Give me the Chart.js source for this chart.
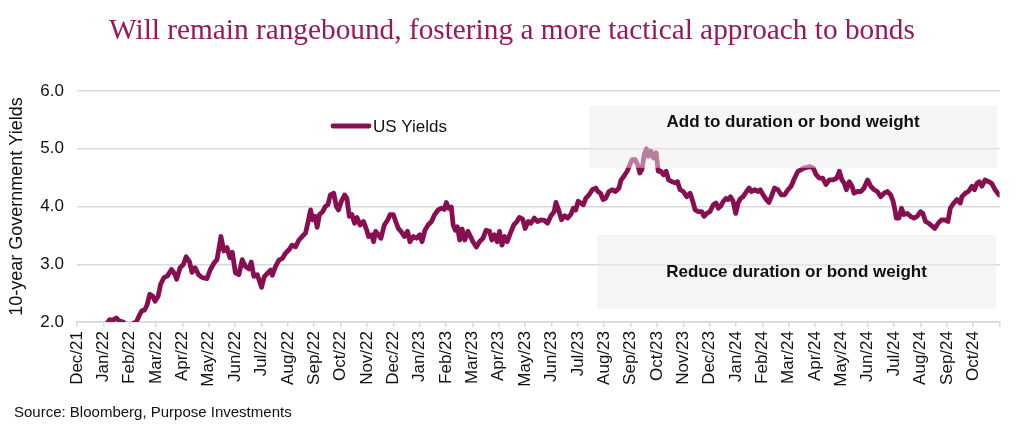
<!DOCTYPE html>
<html>
<head>
<meta charset="utf-8">
<script src="https://cdn.jsdelivr.net/npm/chart.js@4.4.1/dist/chart.umd.min.js"></script>
<style>
  html, body { margin: 0; padding: 0; background: #fff; }
  #wrap { position: relative; width: 1024px; height: 439px; overflow: hidden; }
  #chart { position: absolute; left: 0; top: 0; }
  #title {
    position: absolute; left: 0; top: 13px; width: 1024px; text-align: center;
    font-family: "Liberation Serif", "DejaVu Serif", serif; font-size: 29.3px;
    color: #98185a;
  }
  #source {
    position: absolute; left: 14px; top: 403px;
    font-family: "Liberation Sans", Arial, sans-serif; font-size: 15px; color: #111;
  }
</style>
</head>
<body>
<div id="wrap">
  <canvas id="chart" width="1024" height="439"></canvas>
  <div id="title">Will remain rangebound, fostering a more tactical approach to bonds</div>
  <div id="source">Source: Bloomberg, Purpose Investments</div>
</div>
<script>
// month labels on the date axis (0 = Dec/21)
const monthLabels = [
  "Dec/21", "Jan/22", "Feb/22", "Mar/22", "Apr/22", "May/22", "Jun/22", "Jul/22",
  "Aug/22", "Sep/22", "Oct/22", "Nov/22", "Dec/22", "Jan/23", "Feb/23", "Mar/23",
  "Apr/23", "May/23", "Jun/23", "Jul/23", "Aug/23", "Sep/23", "Oct/23", "Nov/23",
  "Dec/23", "Jan/24", "Feb/24", "Mar/24", "Apr/24", "May/24", "Jun/24", "Jul/24",
  "Aug/24", "Sep/24", "Oct/24"
];

const yTicks = [2, 3, 4, 5, 6];

// position of each reading, in months since Dec/21
const months = [
  0.9, 1.1, 1.24, 1.35, 1.49, 1.6, 1.75, 1.9, 2.05, 2.19, 2.25, 2.35, 2.45, 2.57, 2.66,
  2.76, 2.87, 2.96, 3.08, 3.17, 3.3, 3.43, 3.59, 3.72, 3.78, 3.91, 4.04, 4.14, 4.27, 4.36,
  4.48, 4.61, 4.74, 4.93, 5.06, 5.21, 5.31, 5.41, 5.46, 5.57, 5.69, 5.8, 5.89, 6.01, 6.14,
  6.27, 6.39, 6.52, 6.61, 6.71, 6.84, 7.0, 7.1, 7.22, 7.35, 7.41, 7.53, 7.66, 7.79, 7.91,
  8.04, 8.16, 8.29, 8.42, 8.54, 8.67, 8.77, 8.86, 8.94, 9.04, 9.11, 9.2, 9.32, 9.42, 9.52,
  9.61, 9.74, 9.84, 9.92, 10.03, 10.15, 10.24, 10.33, 10.43, 10.53, 10.62, 10.74, 10.87, 10.99, 11.06,
  11.18, 11.25, 11.33, 11.43, 11.53, 11.66, 11.79, 11.88, 12.0, 12.09, 12.19, 12.29, 12.42, 12.54, 12.63,
  12.76, 12.88, 13.01, 13.09, 13.2, 13.32, 13.45, 13.57, 13.7, 13.83, 13.93, 14.01, 14.1, 14.2, 14.27,
  14.35, 14.43, 14.52, 14.61, 14.71, 14.83, 14.93, 15.02, 15.15, 15.27, 15.4, 15.52, 15.65, 15.74, 15.84,
  15.94, 16.03, 16.12, 16.22, 16.32, 16.44, 16.57, 16.69, 16.78, 16.91, 17.0, 17.12, 17.22, 17.35, 17.47,
  17.6, 17.73, 17.85, 17.98, 18.1, 18.17, 18.25, 18.38, 18.5, 18.61, 18.73, 18.83, 18.92, 19.01, 19.11,
  19.21, 19.3, 19.42, 19.55, 19.68, 19.76, 19.86, 19.96, 20.05, 20.18, 20.3, 20.43, 20.56, 20.64, 20.74,
  20.87, 21.0, 21.06, 21.18, 21.27, 21.35, 21.43, 21.52, 21.6, 21.68, 21.77, 21.87, 21.97, 22.05, 22.15,
  22.25, 22.35, 22.44, 22.57, 22.69, 22.78, 22.88, 23.0, 23.13, 23.26, 23.36, 23.45, 23.57, 23.7, 23.79,
  23.89, 24.01, 24.14, 24.24, 24.33, 24.41, 24.52, 24.62, 24.7, 24.79, 24.89, 24.99, 25.08, 25.17, 25.27,
  25.4, 25.5, 25.58, 25.71, 25.84, 25.92, 26.03, 26.15, 26.25, 26.34, 26.46, 26.59, 26.72, 26.84, 26.97,
  27.09, 27.22, 27.35, 27.47, 27.6, 27.81, 27.94, 28.04, 28.16, 28.29, 28.41, 28.54, 28.67, 28.82, 28.92,
  29.02, 29.11, 29.19, 29.3, 29.4, 29.48, 29.61, 29.74, 29.86, 29.99, 30.11, 30.24, 30.36, 30.49, 30.62,
  30.74, 30.87, 30.96, 31.03, 31.08, 31.18, 31.28, 31.37, 31.5, 31.62, 31.75, 31.87, 32.0, 32.09, 32.19,
  32.31, 32.44, 32.54, 32.67, 32.79, 32.92, 33.04, 33.13, 33.26, 33.38, 33.51, 33.57, 33.7, 33.82, 33.95,
  34.05, 34.14, 34.23, 34.33, 34.45, 34.58, 34.7, 34.83, 34.98
];

// US 10-year yields (%)
const yields = [
  1.8, 1.95, 2.04, 2.03, 2.07, 2.02, 2.0, 1.93, 1.95, 1.99, 2.0, 2.1, 2.19, 2.21, 2.3,
  2.48, 2.45, 2.36, 2.45, 2.65, 2.77, 2.8, 2.91, 2.82, 2.74, 2.94, 3.0, 3.13, 3.04, 2.86,
  2.94, 2.82, 2.77, 2.75, 2.91, 3.03, 3.08, 3.34, 3.48, 3.23, 3.29, 3.11, 3.21, 2.85, 2.82,
  3.08, 2.96, 2.92, 3.04, 2.79, 2.82, 2.6, 2.78, 2.84, 2.9, 2.81, 2.96, 3.07, 3.1, 3.19,
  3.25, 3.33, 3.3, 3.42, 3.48, 3.54, 3.74, 3.94, 3.77, 3.83, 3.64, 3.86, 3.91, 4.0, 4.03,
  4.2, 4.23, 4.0, 3.94, 4.09, 4.2, 4.14, 3.83, 3.86, 3.71, 3.81, 3.68, 3.74, 3.59, 3.48,
  3.51, 3.39, 3.57, 3.51, 3.45, 3.68, 3.77, 3.86, 3.86, 3.74, 3.62, 3.57, 3.48, 3.57, 3.39,
  3.48, 3.45, 3.51, 3.39, 3.59, 3.68, 3.74, 3.86, 3.94, 3.97, 3.95, 4.07, 3.97, 3.99, 3.68,
  3.59, 3.65, 3.42, 3.61, 3.42, 3.57, 3.48, 3.39, 3.3, 3.39, 3.45, 3.59, 3.57, 3.42, 3.51,
  3.39, 3.57, 3.33, 3.48, 3.39, 3.54, 3.68, 3.74, 3.81, 3.78, 3.62, 3.74, 3.71, 3.8, 3.74,
  3.77, 3.76, 3.71, 3.84, 3.91, 4.07, 3.97, 3.77, 3.84, 3.8, 3.86, 3.97, 3.94, 4.09, 4.06,
  4.03, 4.14, 4.2, 4.29, 4.32, 4.26, 4.23, 4.12, 4.14, 4.26, 4.29, 4.26, 4.32, 4.46, 4.52,
  4.61, 4.75, 4.81, 4.81, 4.72, 4.58, 4.64, 4.9, 5.0, 4.87, 4.96, 4.84, 4.93, 4.61, 4.61,
  4.55, 4.61, 4.46, 4.43, 4.41, 4.43, 4.29, 4.26, 4.17, 4.23, 4.09, 3.94, 3.91, 3.91, 3.83,
  3.88, 3.91, 4.03, 4.06, 3.97, 4.0, 4.09, 4.14, 4.12, 4.17, 4.09, 3.88, 4.06, 4.14, 4.17,
  4.26, 4.32, 4.26, 4.29, 4.26, 4.29, 4.2, 4.12, 4.07, 4.17, 4.32, 4.29, 4.2, 4.2, 4.29,
  4.35, 4.49, 4.61, 4.64, 4.67, 4.69, 4.66, 4.55, 4.49, 4.49, 4.38, 4.46, 4.46, 4.49, 4.61,
  4.46, 4.4, 4.29, 4.43, 4.35, 4.23, 4.26, 4.26, 4.32, 4.46, 4.35, 4.29, 4.26, 4.17, 4.23,
  4.26, 4.2, 4.09, 3.94, 3.8, 3.8, 3.97, 3.86, 3.88, 3.83, 3.8, 3.83, 3.91, 3.88, 3.74,
  3.71, 3.66, 3.62, 3.71, 3.77, 3.77, 3.74, 3.97, 4.06, 4.12, 4.06, 4.17, 4.23, 4.26, 4.35,
  4.29, 4.4, 4.43, 4.35, 4.46, 4.43, 4.4, 4.29, 4.2
];

const lineColor = "#870f51";
const gridColor = "#d9d9d9";
const sans = '"Liberation Sans", Arial, sans-serif';

// shaded guidance zones, in axis units
const zones = [
  { text: "Add to duration or bond weight", x0: 19.43, x1: 34.9, y0: 4.67, y1: 5.74, textY: 5.45 },
  { text: "Reduce duration or bond weight", x0: 19.74, x1: 34.85, y0: 2.23, y1: 3.51, textY: 2.86 }
];

const zonePlugin = {
  id: "zones",
  afterDatasetsDraw(chart) {
    const { ctx, scales: { x, y } } = chart;
    ctx.save();
    zones.forEach((z) => {
      const left = x.getPixelForValue(z.x0);
      const right = x.getPixelForValue(z.x1);
      const top = y.getPixelForValue(z.y1);
      const bottom = y.getPixelForValue(z.y0);
      ctx.fillStyle = "rgba(235,235,235,0.5)";
      ctx.fillRect(left, top, right - left, bottom - top);
      ctx.fillStyle = "#111";
      ctx.font = "bold 17px " + sans;
      ctx.textAlign = "center";
      ctx.textBaseline = "middle";
      ctx.fillText(z.text, (left + right) / 2, y.getPixelForValue(z.textY));
    });
    ctx.restore();
  }
};

// legend sitting inside the plot
const legendPlugin = {
  id: "inlineLegend",
  afterDraw(chart) {
    const ctx = chart.ctx;
    ctx.save();
    ctx.strokeStyle = lineColor;
    ctx.lineWidth = 4.8;
    ctx.lineCap = "round";
    ctx.beginPath();
    ctx.moveTo(333, 126);
    ctx.lineTo(369, 126);
    ctx.stroke();
    ctx.fillStyle = "#111";
    ctx.font = "17px " + sans;
    ctx.textAlign = "left";
    ctx.textBaseline = "middle";
    ctx.fillText(chart.data.datasets[0].label, 373, 127);
    ctx.restore();
  }
};

new Chart(document.getElementById("chart"), {
  type: "line",
  data: {
    datasets: [
      {
        label: "US Yields",
        data: months.map((m, i) => ({ x: m, y: yields[i] })),
        borderColor: lineColor,
        borderWidth: 4.8,
        borderJoinStyle: "round",
        borderCapStyle: "round",
        pointRadius: 0,
        tension: 0,
        clip: 0
      }
    ]
  },
  options: {
    responsive: false,
    animation: false,
    layout: { padding: { top: 91, right: 19, bottom: 0, left: 0 } },
    plugins: {
      legend: { display: false },
      tooltip: { enabled: false }
    },
    scales: {
      x: {
        type: "linear",
        min: 0,
        max: monthLabels.length,
        afterFit: (scale) => { scale.height = 117; },
        afterBuildTicks: (scale) => {
          scale.ticks = monthLabels.map((_, i) => ({ value: i })).concat([{ value: monthLabels.length }]);
        },
        ticks: {
          autoSkip: false,
          maxRotation: 90,
          minRotation: 90,
          padding: 4,
          color: "#111",
          font: { family: sans, size: 17 },
          callback: (v) => monthLabels[v] || ""
        },
        grid: { drawOnChartArea: false, color: gridColor, lineWidth: 1.5, tickLength: 5 },
        border: { color: gridColor, width: 1.5 }
      },
      y: {
        min: 2,
        max: 6,
        afterFit: (scale) => { scale.width = 77; },
        afterBuildTicks: (scale) => {
          scale.ticks = yTicks.map((v) => ({ value: v }));
        },
        ticks: {
          padding: 13,
          color: "#111",
          font: { family: sans, size: 17 },
          callback: (v) => v.toFixed(1)
        },
        grid: { color: gridColor, lineWidth: 1.5, drawTicks: false },
        border: { display: false },
        title: {
          display: true,
          text: "10-year Government Yields",
          color: "#111",
          font: { family: sans, size: 18 },
          padding: { top: 6, bottom: 0 }
        }
      }
    }
  },
  plugins: [zonePlugin, legendPlugin]
});
</script>
</body>
</html>
